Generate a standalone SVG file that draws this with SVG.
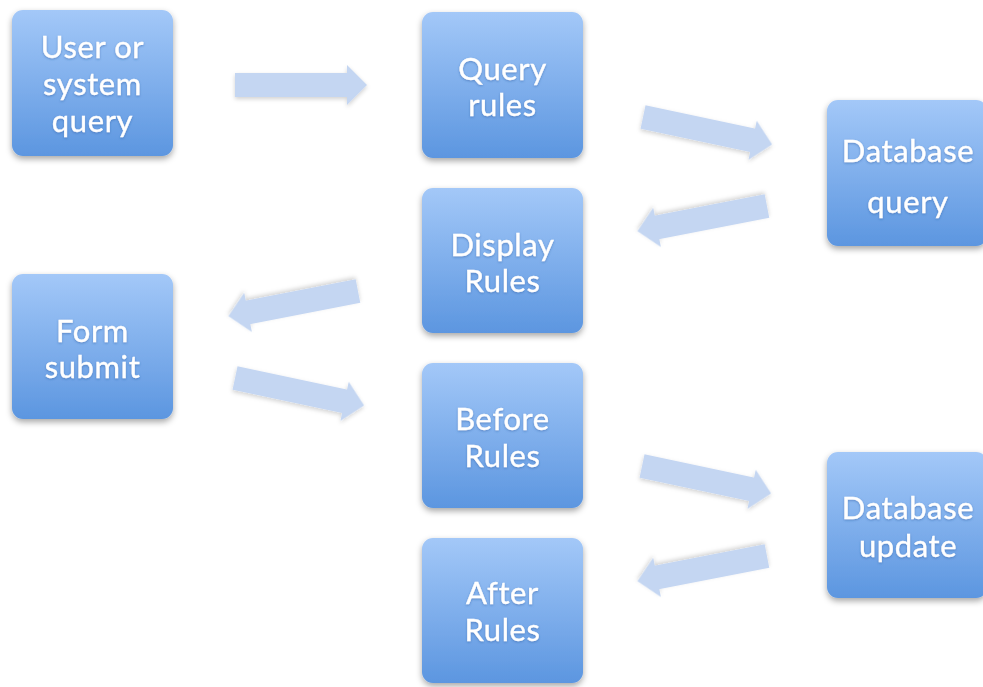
<svg xmlns="http://www.w3.org/2000/svg" width="983" height="687" viewBox="0 0 983 687">
<defs>
<linearGradient id="boxGrad" x1="0" y1="0" x2="0" y2="1">
<stop offset="0" stop-color="#a3c8f8"/>
<stop offset="1" stop-color="#5c96e0"/>
</linearGradient>
<filter id="shadow" x="-20%" y="-20%" width="140%" height="140%">
<feDropShadow dx="0" dy="3" stdDeviation="3" flood-color="#000" flood-opacity="0.35"/>
</filter>
<filter id="ashadow" x="-20%" y="-50%" width="140%" height="200%">
<feDropShadow dx="0" dy="2" stdDeviation="2" flood-color="#000" flood-opacity="0.18"/>
</filter>
<filter id="tshadow" x="-10%" y="-20%" width="120%" height="140%">
<feDropShadow dx="0" dy="1" stdDeviation="1" flood-color="#2a5a9e" flood-opacity="0.5"/>
</filter>
<path id="arrow" d="M0,-12 L112,-12 L112,-20 L132,0 L112,20 L112,12 L0,12 Z"/>
</defs>
<style>
.box{fill:url(#boxGrad);filter:url(#shadow);}
.lbl{font-family:Lato,"Open Sans","Liberation Sans",sans-serif;font-size:31px;letter-spacing:0.6px;fill:#ffffff;stroke:#ffffff;stroke-width:0.35;text-anchor:middle;filter:url(#tshadow);}
.arr{fill:#c4d6f2;filter:url(#ashadow);}
</style>
<rect width="983" height="687" fill="#ffffff"/>
<g id="connectors">
<use href="#arrow" class="arr" transform="translate(235,85)"/>
<use href="#arrow" class="arr" transform="translate(643,117) rotate(12)"/>
<use href="#arrow" class="arr" transform="translate(767,206) rotate(169)"/>
<use href="#arrow" class="arr" transform="translate(358,291) rotate(169)"/>
<use href="#arrow" class="arr" transform="translate(235,378) rotate(12)"/>
<use href="#arrow" class="arr" transform="translate(642,466) rotate(12)"/>
<use href="#arrow" class="arr" transform="translate(767,556) rotate(169)"/>
</g>
<g id="user-query">
<rect class="box" x="12" y="10" width="161" height="146" rx="11"/>
<text class="lbl" x="92.5" y="58">User or</text>
<text class="lbl" x="92.5" y="95">system</text>
<text class="lbl" x="92.5" y="132">query</text>
</g>
<g id="query-rules">
<rect class="box" x="422" y="12" width="161" height="146" rx="11"/>
<text class="lbl" x="502.5" y="80">Query</text>
<text class="lbl" x="502.5" y="116">rules</text>
</g>
<g id="database-query">
<rect class="box" x="827" y="100" width="160" height="146" rx="11"/>
<text class="lbl" x="908" y="162">Database</text>
<text class="lbl" x="908" y="213">query</text>
</g>
<g id="display-rules">
<rect class="box" x="422" y="188" width="161" height="145" rx="11"/>
<text class="lbl" x="502.5" y="256">Display</text>
<text class="lbl" x="502.5" y="292">Rules</text>
</g>
<g id="form-submit">
<rect class="box" x="12" y="274" width="161" height="145" rx="11"/>
<text class="lbl" x="92.5" y="342">Form</text>
<text class="lbl" x="92.5" y="378">submit</text>
</g>
<g id="before-rules">
<rect class="box" x="422" y="363" width="161" height="145" rx="11"/>
<text class="lbl" x="502.5" y="430">Before</text>
<text class="lbl" x="502.5" y="467">Rules</text>
</g>
<g id="database-update">
<rect class="box" x="827" y="452" width="160" height="146" rx="11"/>
<text class="lbl" x="908" y="519">Database</text>
<text class="lbl" x="908" y="557">update</text>
</g>
<g id="after-rules">
<rect class="box" x="422" y="538" width="161" height="145" rx="11"/>
<text class="lbl" x="502.5" y="604">After</text>
<text class="lbl" x="502.5" y="641">Rules</text>
</g>
</svg>
